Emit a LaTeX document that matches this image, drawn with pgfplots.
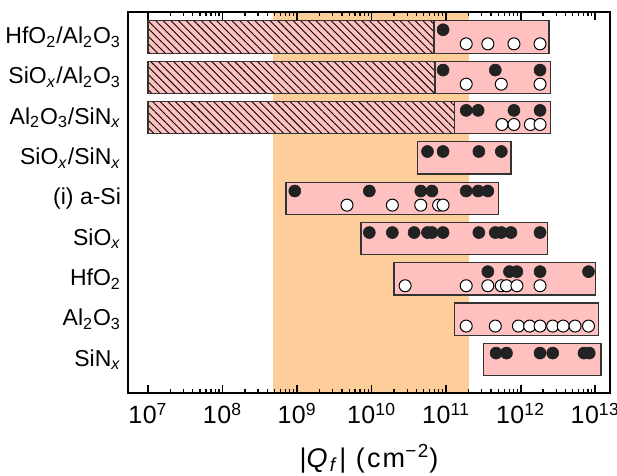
\documentclass[border=0pt]{standalone}
\usepackage{fontspec}
\setmainfont{Liberation Sans}
\usepackage{pgfplots}
\pgfplotsset{compat=1.18}
\usetikzlibrary{patterns.meta}
\definecolor{boxpink}{HTML}{FFC0C0}
\definecolor{band}{HTML}{FDCD9A}
\definecolor{boxedge}{HTML}{333333}
\definecolor{dotblack}{HTML}{222222}
\pgfplotsset{
  boxst/.style={fill=boxpink, draw=boxedge, line width=0.6pt},
  hatchst/.style={draw=boxedge, line width=0.6pt, pattern={Lines[angle=-45,distance=2.7pt,line width=0.45pt]}, pattern color=black},
  blk/.style={only marks, mark=*, mark size=3pt, mark options={fill=dotblack, draw=dotblack, line width=0.3pt}},
  wht/.style={only marks, mark=*, mark size=3pt, mark options={fill=white, draw=black, line width=0.5pt}},
}
\begin{document}
\begin{tikzpicture}
\begin{axis}[name=ax, scale only axis, width=241pt, height=190.5pt,
  xmode=log, xmin=5.4e6, xmax=1.58e13, ymin=0.17, ymax=9.62,
  axis on top, axis line style={line width=1.2pt},
  xtick={1e7,1e8,1e9,1e10,1e11,1e12,1e13},
  xticklabels={10\textsuperscript{7},10\textsuperscript{8},10\textsuperscript{9},10\textsuperscript{10},10\textsuperscript{11},10\textsuperscript{12},10\textsuperscript{13}},
  tick align=inside, major tick length=4pt, minor tick length=2pt,
  every major tick/.style={black, line width=0.9pt},
  every minor tick/.style={black, line width=0.6pt},
  ytick={1,2,3,4,5,6,7,8,9},
  yticklabels={{SiN\textsubscript{\textit{x}}},{Al\textsubscript{2}O\textsubscript{3}},{HfO\textsubscript{2}},{SiO\textsubscript{\textit{x}}},{(i) a-Si},{SiO\textsubscript{\textit{x}}/SiN\textsubscript{\textit{x}}},{Al\textsubscript{2}O\textsubscript{3}/SiN\textsubscript{\textit{x}}},{SiO\textsubscript{\textit{x}}/Al\textsubscript{2}O\textsubscript{3}},{HfO\textsubscript{2}/Al\textsubscript{2}O\textsubscript{3}}},
  ytick style={draw=none},
  yticklabel style={font=\fontsize{11.5}{13}\selectfont},
  xticklabel style={font=\fontsize{12.5}{15}\selectfont\addfontfeatures{LetterSpace=2}, yshift=-1.5pt},
  xlabel={|\textit{Q}\textsubscript{\textit{f}}| (cm\textsuperscript{−2})},
  xlabel style={font=\fontsize{13.5}{15}\selectfont\addfontfeatures{LetterSpace=8}, yshift=-3pt},
]
% band
\addplot[fill=band, draw=none] coordinates {(4.8e8,0.17) (2e11,0.17) (2e11,9.62) (4.8e8,9.62)} --cycle;
% boxes
\addplot[boxst] coordinates {(1e7,8.6) (2.4e12,8.6) (2.4e12,9.4) (1e7,9.4)} --cycle;
\addplot[hatchst] coordinates {(1e7,8.6) (6.9e10,8.6) (6.9e10,9.4) (1e7,9.4)} --cycle;
\addplot[boxst] coordinates {(1e7,7.6) (2.5e12,7.6) (2.5e12,8.4) (1e7,8.4)} --cycle;
\addplot[hatchst] coordinates {(1e7,7.6) (7.1e10,7.6) (7.1e10,8.4) (1e7,8.4)} --cycle;
\addplot[boxst] coordinates {(1e7,6.6) (2.5e12,6.6) (2.5e12,7.4) (1e7,7.4)} --cycle;
\addplot[hatchst] coordinates {(1e7,6.6) (1.3e11,6.6) (1.3e11,7.4) (1e7,7.4)} --cycle;
\addplot[boxst] coordinates {(4.1e10,5.6) (7.4e11,5.6) (7.4e11,6.4) (4.1e10,6.4)} --cycle;
\addplot[boxst] coordinates {(7.1e8,4.6) (5e11,4.6) (5e11,5.4) (7.1e8,5.4)} --cycle;
\addplot[boxst] coordinates {(7.2e9,3.6) (2.3e12,3.6) (2.3e12,4.4) (7.2e9,4.4)} --cycle;
\addplot[boxst] coordinates {(2e10,2.6) (1.02e13,2.6) (1.02e13,3.4) (2e10,3.4)} --cycle;
\addplot[boxst] coordinates {(1.3e11,1.6) (1.1e13,1.6) (1.1e13,2.4) (1.3e11,2.4)} --cycle;
\addplot[boxst] coordinates {(3.2e11,0.6) (1.2e13,0.6) (1.2e13,1.4) (3.2e11,1.4)} --cycle;
% HfO2/Al2O3
\addplot[blk] coordinates {(9.1e10,9.18)};
\addplot[wht] coordinates {(1.86e11,8.83) (3.63e11,8.83) (8.13e11,8.83) (1.82e12,8.83)};
% SiOx/Al2O3
\addplot[blk] coordinates {(9.1e10,8.18) (4.57e11,8.18) (1.82e12,8.18)};
\addplot[wht] coordinates {(1.86e11,7.83) (5.5e11,7.83) (1.82e12,7.83)};
% Al2O3/SiNx
\addplot[blk] coordinates {(1.86e11,7.18) (2.69e11,7.18) (8.13e11,7.18) (1.82e12,7.18)};
\addplot[wht] coordinates {(5.62e11,6.83) (8.13e11,6.83) (1.35e12,6.83) (1.82e12,6.83)};
% SiOx/SiNx
\addplot[blk] coordinates {(5.62e10,6.16) (9.1e10,6.16) (2.75e11,6.16) (5.5e11,6.16)};
% (i) a-Si
\addplot[blk] coordinates {(9.33e8,5.18) (9.33e9,5.18) (4.57e10,5.18) (6.46e10,5.18) (1.86e11,5.18) (2.69e11,5.18) (3.63e11,5.18)};
\addplot[wht] coordinates {(4.68e9,4.83) (1.9e10,4.83) (4.57e10,4.83) (7.94e10,4.83) (9.1e10,4.83)};
% SiOx
\addplot[blk] coordinates {(9.33e9,4.15) (1.9e10,4.15) (3.72e10,4.15) (5.62e10,4.15) (6.46e10,4.15) (9.1e10,4.15) (2.75e11,4.15) (4.57e11,4.15) (5.5e11,4.15) (7.41e11,4.15) (1.82e12,4.15)};
% HfO2
\addplot[blk] coordinates {(3.63e11,3.18) (7.08e11,3.18) (8.91e11,3.18) (1.82e12,3.18) (8.13e12,3.18)};
\addplot[wht] coordinates {(2.82e10,2.83) (1.86e11,2.83) (3.63e11,2.83) (5.5e11,2.83) (6.46e11,2.83) (8.91e11,2.83) (1.82e12,2.83)};
% Al2O3
\addplot[wht] coordinates {(1.86e11,1.83) (4.57e11,1.83) (9.33e11,1.83) (1.32e12,1.83) (1.82e12,1.83) (2.69e12,1.83) (3.72e12,1.83) (5.37e12,1.83) (8.13e12,1.83)};
% SiNx
\addplot[blk] coordinates {(4.68e11,1.16) (6.46e11,1.16) (1.82e12,1.16) (2.69e12,1.16) (7.08e12,1.16) (8.32e12,1.16)};
\end{axis}
\pgfresetboundingbox
\path ([xshift=-64pt,yshift=-41.5pt]ax.south west) rectangle ([xshift=3.5pt,yshift=6pt]ax.north east);
\end{tikzpicture}
\end{document}
